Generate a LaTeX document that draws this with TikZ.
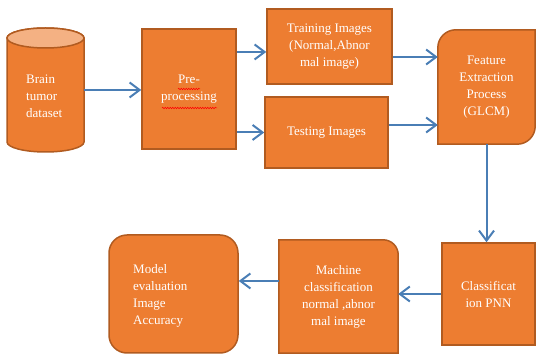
\documentclass[tikz,border=0pt]{standalone}
\usepackage{fontspec}
\setmainfont{Liberation Serif}
\usepackage{tikz}
\usetikzlibrary{arrows.meta}
\usetikzlibrary{calc}
\usetikzlibrary{decorations.pathmorphing}

\definecolor{boxorange}{HTML}{ED7D31}
\definecolor{boxedge}{HTML}{B15B20}
\definecolor{toporange}{HTML}{F4B183}
\definecolor{flowblue}{HTML}{4A7EB5}

\begin{document}
\begin{tikzpicture}[x=1pt,y=1pt,
    boxshape/.style={fill=boxorange, draw=boxedge, line width=1.5pt},
    boxtext/.style={text=white, align=center, inner sep=0pt,
                    font=\fontsize{13}{17}\selectfont},
    flow/.style={draw=flowblue, line width=2pt,
                 -{Straight Barb[length=10pt,width=15pt]}},
    squiggle/.style={draw=red, line width=0.5pt,
                     decorate, decoration={snake, amplitude=0.8pt, segment length=2.5pt}}]

  \useasboundingbox (0,0) rectangle (536,-355);

  % dataset cylinder
  \draw[boxshape] (7,-38) -- (7,-142)
    arc[start angle=180, end angle=360, x radius=38.5pt, y radius=10pt]
    -- (84,-38)
    arc[start angle=0, end angle=180, x radius=38.5pt, y radius=10pt] -- cycle;
  \draw[boxshape, fill=toporange] (45.5,-38) ellipse[x radius=38.5pt, y radius=10pt];
  \node[boxtext, align=left, minimum width=77pt, minimum height=124pt] (data) at (45.5,-90) {};
  \node[boxtext, align=left, anchor=west] at (26,-96) {Brain\\tumor\\dataset};

  % plain boxes
  \node[boxshape, boxtext, minimum width=94pt, minimum height=120pt] (pre) at (189,-89) {Pre-\\processing};
  \node[boxshape, boxtext, minimum width=125pt, minimum height=75pt] (trn) at (329.5,-46.5)
    {Training Images\\(Normal,Abnor\\mal image)};
  \node[boxshape, boxtext, minimum width=123pt, minimum height=71pt] (tst) at (326.5,-132.5) {Testing Images};
  \node[boxshape, boxtext, minimum width=93pt, minimum height=102pt] (cls) at (488.5,-294) {Classificat\\ion PNN};

  % spell check marks
  \draw[squiggle] ($(pre)+(-11,0)$) -- ($(pre)+(11,0)$);
  \draw[squiggle] ($(pre)+(-27,-19)$) -- ($(pre)+(28,-19)$);

  % feature extraction, round diagonal corners
  \node[boxtext, minimum width=97pt, minimum height=114pt] (feat) at (486.5,-87) {};
  \draw[boxshape] ($(feat.north west)+(0,-18)$)
    arc[start angle=180, end angle=90, radius=18pt] -- (feat.north east)
    -- ($(feat.south east)+(0,18)$)
    arc[start angle=0, end angle=-90, radius=18pt] -- (feat.south west) -- cycle;
  \node[boxtext] at (feat) {Feature\\Extraction\\Process\\(GLCM)};

  % machine classification, one round corner
  \node[boxtext, minimum width=119pt, minimum height=113pt] (mach) at (338.5,-296.5) {};
  \draw[boxshape] (mach.north west) -- ($(mach.north east)+(-15,0)$)
    arc[start angle=90, end angle=0, radius=15pt] -- (mach.south east)
    -- (mach.south west) -- cycle;
  \node[boxtext] at (mach) {Machine\\classification\\normal ,abnor\\mal image};

  % model evaluation
  \node[boxshape, rounded corners=18pt, minimum width=129pt, minimum height=118pt] (model) at (173.5,-294) {};
  \node[boxtext, align=left, anchor=west] at (133,-296) {Model\\evaluation\\Image\\Accuracy};

  % connectors
  \draw[flow] (data.east) -- (data.east -| pre.west);
  \draw[flow] ([yshift=-5.5pt]trn.west -| pre.east) -- ([yshift=-5.5pt]trn.west);
  \draw[flow] (tst.west -| pre.east) -- (tst.west);
  \draw[flow] ([yshift=-10.5pt]trn.east) -- ([yshift=-10.5pt]trn.east -| feat.west);
  \draw[flow] ([yshift=7.5pt]tst.east) -- ([yshift=7.5pt]tst.east -| feat.west);
  \draw[flow] (feat.south) -- (feat.south |- cls.north);
  \draw[flow] (cls.west) -- (cls.west -| mach.east);
  \draw[flow] ([yshift=15.5pt]mach.west) -- ([yshift=15.5pt]mach.west -| model.east);

\end{tikzpicture}
\end{document}
